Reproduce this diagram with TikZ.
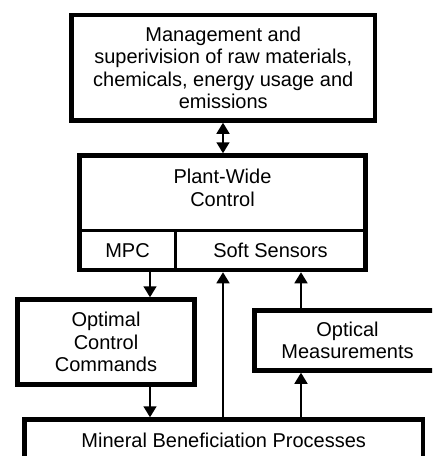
\documentclass[tikz,border=0pt]{standalone}
\usepackage{fontspec}
\setmainfont{Liberation Sans}
\usetikzlibrary{arrows.meta}
\begin{document}
\begin{tikzpicture}[x=1pt,y=-1pt,
  every node/.style={font=\fontsize{20}{22.4}\selectfont, align=center, inner sep=0pt},
  blockbox/.style={draw, line width=4.5pt, minimum width=#1},
  divider/.style={line width=2.2pt},
  arr/.style={line width=1.6pt, -{Triangle[width=13pt,length=11pt]}},
  dblarr/.style={line width=1.6pt, {Triangle[width=13pt,length=11pt]}-{Triangle[width=13pt,length=11pt]}}
]
\useasboundingbox (0,0) rectangle (432,456);
\clip (0,0) rectangle (432,456);

% boxes
\node[blockbox=303.5pt, minimum height=105.5pt] (mgmt) at (223.25,67.75)
  {Management and\\superivision of raw materials,\\chemicals, energy usage and\\emissions};
\node[blockbox=286pt, minimum height=114.5pt] (plant) at (222.5,212.75) {};
\node[blockbox=177pt, minimum height=85pt] (opt) at (106,342)
  {Optimal\\Control\\Commands};
\node[blockbox=186pt, minimum height=60pt] (optical) at (347.5,340.5)
  {Optical\\Measurements};
\node[blockbox=398.5pt, minimum height=42.5pt] (mineral) at (223.75,440.75)
  {Mineral Beneficiation Processes};

% inner partition of the plant-wide control block
\node (pwc) at (222.5,188) {Plant-Wide\\Control};
\coordinate (hdiv) at (0,230.5);
\coordinate (vdiv) at (175.5,0);
\draw[divider] (plant.west |- hdiv) -- (plant.east |- hdiv);
\draw[divider] (vdiv |- hdiv) -- (vdiv |- plant.south);
\node (mpc) at (127.5,250.5) {MPC};
\node (soft) at (270.5,250.5) {Soft Sensors};

% connector columns
\coordinate (xa) at (150,0);
\coordinate (xb) at (223,0);
\coordinate (xc) at (301,0);

% connectors
\draw[dblarr] (mgmt.south -| xb) -- (plant.north -| xb);
\draw[arr] (xa |- plant.south) -- (xa |- opt.north);
\draw[arr] (xa |- opt.south) -- (xa |- mineral.north);
\draw[arr] (xb |- mineral.north) -- (xb |- plant.south);
\draw[arr] (xc |- mineral.north) -- (xc |- optical.south);
\draw[arr] (xc |- optical.north) -- (xc |- plant.south);
\end{tikzpicture}
\end{document}
